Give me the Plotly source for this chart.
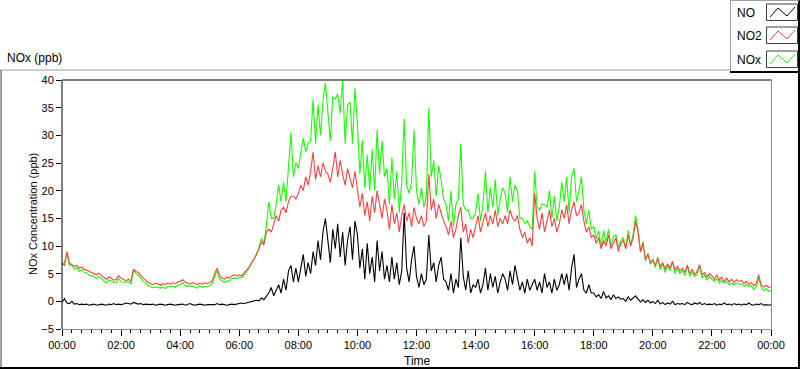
import plotly.graph_objects as go

# ---- data (5-minute readings, 00:00 .. 24:00) ----
no2 = [
    6.8, 6.5, 9.0, 6.9, 6.6, 6.3, 6.5, 6.0, 6.2, 5.8, 5.6, 5.4,
    5.2, 5.0, 4.8, 5.1, 4.6, 4.3, 4.0, 4.4, 4.2, 3.8, 4.0, 4.6,
    4.2, 3.9, 3.7, 4.0, 3.6, 5.8, 5.4, 5.2, 4.6, 4.2, 3.8, 3.4,
    3.2, 3.0, 3.3, 3.1, 2.9, 3.2, 3.0, 3.3, 3.1, 3.4, 3.2, 3.5,
    3.6, 3.9, 3.5, 3.3, 3.1, 3.4, 3.2, 3.0, 3.3, 3.1, 3.4, 3.2,
    3.4, 3.7, 5.0, 6.0, 4.6, 4.2, 4.0, 4.4, 4.2, 4.6, 4.8, 4.6,
    4.8, 4.6, 5.2, 5.6, 6.2, 7.0, 7.6, 8.4, 9.5, 10.8, 10.2, 12.5,
    13.0, 12.5, 14.0, 15.5, 14.5, 16.5, 17.0, 16.0, 18.0, 19.0, 19.0, 18.5,
    19.5, 21.0, 20.0, 22.5, 21.0, 23.5, 27.0, 22.0, 24.5, 22.5, 25.0, 23.5,
    23.0, 21.5, 24.0, 27.0, 22.5, 25.5, 23.0, 21.0, 24.0, 22.0, 20.5, 23.5,
    20.5, 17.0, 19.5, 15.5, 18.0, 14.5, 19.0, 16.0, 20.0, 17.5, 15.0, 18.5,
    16.5, 13.0, 17.5, 14.0, 16.0, 12.5, 15.5, 17.5, 14.5, 16.0, 13.5, 17.0,
    15.0, 14.0, 15.5, 13.5, 14.5, 23.0, 16.5, 18.5, 15.0, 17.5, 16.0, 14.5,
    13.5, 12.0, 14.5, 11.5, 13.0, 15.5, 17.0, 12.5, 14.0, 10.5, 13.0, 11.5,
    13.5, 15.5, 12.5, 14.5, 16.0, 13.5, 15.5, 14.0, 16.5, 13.5, 15.0, 14.0,
    15.5, 14.0, 16.5, 15.0, 14.5, 15.5, 13.0, 11.5, 12.5, 10.5, 11.5, 10.0,
    19.5, 15.0, 13.0, 16.0, 12.5, 14.5, 16.5, 13.5, 15.0, 12.5, 14.0, 16.5,
    15.0, 17.5, 14.0, 16.5, 18.0, 15.5, 16.0, 17.5, 14.5, 12.5, 13.5, 11.5,
    12.0, 10.5, 11.5, 9.5, 11.0, 10.0, 12.0, 9.5, 10.5, 11.5, 9.0, 10.5,
    11.0, 9.5, 12.0, 10.0, 11.5, 14.5, 12.5, 9.0, 10.5, 7.5, 8.5, 7.0,
    7.5, 6.5, 7.8, 6.2, 7.0, 5.8, 6.8, 6.0, 7.2, 5.6, 6.4, 5.5,
    6.0, 5.2, 6.6, 5.0, 5.8, 4.8, 5.4, 6.6, 4.8, 5.2, 4.4, 5.0,
    4.6, 4.0, 4.8, 3.8, 4.4, 3.6, 4.2, 3.5, 4.0, 3.4, 3.9, 3.6,
    3.8, 3.2, 3.6, 3.0, 3.4, 2.8, 3.2, 4.8, 3.0, 2.6, 2.9, 2.5,
    2.6,
]

no = [
    -0.2, 0.5, -0.3, -0.4, 0.0, -0.5, -0.4, -0.6, -0.5, -0.6, -0.5, -0.7,
    -0.6, -0.5, -0.7, -0.6, -0.5, -0.6, -0.7, -0.5, -0.6, -0.4, -0.6, -0.5,
    -0.6, -0.5, -0.3, -0.4, -0.5, -0.2, -0.4, -0.5, -0.4, -0.6, -0.5, -0.6,
    -0.6, -0.5, -0.7, -0.6, -0.5, -0.6, -0.7, -0.6, -0.5, -0.6, -0.7, -0.6,
    -0.6, -0.5, -0.7, -0.6, -0.4, -0.6, -0.7, -0.6, -0.5, -0.6, -0.7, -0.6,
    -0.6, -0.5, -0.6, -0.4, -0.6, -0.5, -0.6, -0.7, -0.6, -0.5, -0.6, -0.5,
    -0.4, -0.3, -0.4, -0.3, -0.2, -0.1, 0.0, 0.2, 0.1, 0.6, 0.3, 1.0,
    1.5, 2.5, 1.0, 2.0, 3.0, 1.5, 4.0, 2.0, 5.5, 6.5, 3.5, 6.0,
    3.5, 6.0, 8.5, 4.5, 7.0, 5.0, 9.0, 6.5, 11.0, 7.5, 12.5, 15.0,
    10.5, 7.0, 13.0, 9.5, 14.0, 8.0, 12.5, 6.5, 11.0, 13.5, 7.5, 14.5,
    12.0, 6.0, 9.5, 4.0, 10.5, 5.0, 8.0, 3.5, 11.0, 5.5, 9.0, 4.0,
    6.5, 3.5, 8.0, 4.0, 7.0, 3.0, 5.5, 16.0, 6.0, 3.5, 7.5, 10.0,
    4.5, 2.5, 5.0, 3.0, 4.0, 12.0, 5.5, 7.0, 3.5, 6.5, 8.0, 4.0,
    3.5, 2.0, 5.0, 1.5, 4.0, 2.5, 11.5, 4.5, 2.0, 5.5, 1.5, 3.0,
    2.5, 4.0, 1.5, 3.0, 6.0, 2.0, 5.0, 2.5, 4.5, 1.5, 3.5, 5.0,
    4.0, 2.0, 5.5, 3.0, 6.5, 4.5, 2.0, 3.5, 1.5, 4.0, 2.0, 3.0,
    4.0, 2.0, 3.5, 1.5, 5.0, 2.5, 3.5, 1.5, 4.0, 2.0, 3.0, 5.0,
    3.0, 5.0, 2.0, 6.0, 8.5, 2.5, 4.0, 5.0, 2.0, 1.5, 3.0, 1.5,
    1.5, 0.8, 1.2, 0.5, 1.8, 0.6, 1.0, 0.3, 1.2, 0.5, 0.8, 0.4,
    0.5, 0.0, 0.8, 0.2, 0.6, 1.0, 0.4, -0.1, 0.3, -0.2, 0.2, -0.3,
    0.0, -0.4, 0.2, -0.5, -0.2, -0.6, -0.3, -0.5, 0.0, -0.6, -0.4, -0.5,
    -0.4, -0.6, -0.2, -0.5, -0.6, -0.3, -0.5, -0.2, -0.6, -0.4, -0.6, -0.5,
    -0.6, -0.4, -0.7, -0.5, -0.6, -0.3, -0.6, -0.5, -0.7, -0.4, -0.6, -0.5,
    -0.7, -0.5, -0.6, -0.3, -0.6, -0.7, -0.5, -0.6, -0.4, -0.7, -0.6, -0.7,
    -0.6,
]

nox = [
    6.6, 7.0, 8.7, 6.5, 6.6, 5.8, 6.1, 5.4, 5.7, 5.2, 5.1, 4.7,
    4.6, 4.5, 4.1, 4.5, 4.1, 3.7, 3.3, 3.9, 3.6, 3.4, 3.4, 4.1,
    3.6, 3.4, 3.4, 3.6, 3.1, 5.6, 5.0, 4.7, 4.2, 3.6, 3.3, 2.8,
    2.6, 2.5, 2.6, 2.5, 2.4, 2.6, 2.3, 2.7, 2.6, 2.8, 2.5, 2.9,
    3.0, 3.4, 2.8, 2.7, 2.7, 2.8, 2.5, 2.4, 2.8, 2.5, 2.7, 2.6,
    2.8, 3.2, 4.4, 5.6, 4.0, 3.7, 3.4, 3.7, 3.6, 4.1, 4.2, 4.1,
    4.4, 4.3, 4.8, 5.3, 6.0, 6.9, 7.6, 8.6, 9.6, 11.4, 10.5, 13.5,
    18.0, 15.0, 15.0, 17.5, 21.0, 18.0, 21.5, 18.0, 23.5, 30.5, 22.5, 25.0,
    24.0, 27.0, 29.5, 27.0, 28.5, 29.0, 36.5, 28.5, 35.5, 30.0, 36.0, 39.5,
    33.5, 29.0, 37.0, 36.5, 37.5, 34.0, 40.0, 28.5, 35.5, 36.0, 28.5, 38.5,
    32.0, 23.0, 29.0, 20.5, 26.5, 20.0, 27.5, 20.0, 31.0, 23.0, 29.0, 22.5,
    24.0, 17.5, 26.0, 18.5, 23.5, 16.0, 21.5, 33.0, 21.0, 19.5, 21.5, 31.0,
    20.0, 17.5, 20.5, 17.0, 19.0, 35.0, 22.5, 25.5, 19.0, 24.5, 22.0, 18.5,
    17.5, 14.5, 20.0, 13.5, 17.5, 18.5, 28.5, 17.5, 16.5, 16.5, 15.0, 15.0,
    16.0, 19.5, 14.5, 17.5, 23.5, 16.0, 20.5, 17.0, 22.0, 15.5, 18.5, 20.5,
    19.5, 16.0, 22.5, 18.0, 21.0, 20.0, 15.0, 15.0, 14.0, 14.5, 13.5, 13.0,
    23.5, 17.0, 16.5, 17.5, 17.5, 17.0, 20.0, 15.0, 19.0, 14.5, 17.0, 21.5,
    18.0, 22.5, 16.0, 22.5, 24.0, 18.0, 20.0, 22.5, 16.5, 14.0, 16.5, 13.0,
    13.5, 11.3, 12.7, 10.0, 12.8, 10.6, 13.0, 9.8, 11.7, 12.0, 9.8, 10.9,
    11.5, 9.5, 12.8, 10.2, 12.1, 15.5, 12.9, 8.9, 10.8, 7.3, 8.7, 6.7,
    7.5, 6.1, 8.0, 5.7, 6.8, 5.2, 6.5, 5.5, 7.2, 5.0, 6.0, 5.0,
    5.6, 4.6, 6.4, 4.5, 5.2, 4.5, 4.9, 6.4, 4.2, 4.8, 3.8, 4.5,
    4.0, 3.6, 4.1, 3.3, 3.8, 3.3, 3.6, 3.0, 3.3, 3.0, 3.3, 3.1,
    3.1, 2.7, 3.0, 2.7, 2.8, 2.1, 2.7, 4.2, 2.6, 1.9, 2.3, 1.8,
    2.0,
]

x_tick_vals = [0, 2, 4, 6, 8, 10, 12, 14, 16, 18, 20, 22, 24]
x_tick_text = ["00:00", "02:00", "04:00", "06:00", "08:00", "10:00", "12:00",
               "14:00", "16:00", "18:00", "20:00", "22:00", "00:00"]
y_tick_vals = [-5, 0, 5, 10, 15, 20, 25, 30, 35, 40]

series = [("NOx", nox, "#19FF00"), ("NO2", no2, "#FF4040"), ("NO", no, "#000000")]

W, H = 800, 369
def px(v): return v / W
def py(v): return 1 - v / H

FONT = "Liberation Sans, Arial, sans-serif"

fig = go.Figure()
for name, vals, col in series:
    fig.add_trace(go.Scatter(
        x=[i / 12 for i in range(len(vals))], y=vals, mode="lines", name=name,
        line=dict(color=col, width=1.1), showlegend=False, hoverinfo="skip",
    ))

fig.update_layout(
    width=W, height=H, margin=dict(l=0, r=0, t=0, b=0, pad=0, autoexpand=False),
    paper_bgcolor="white", plot_bgcolor="white",
    font=dict(family=FONT, size=11, color="#000000"),
    xaxis=dict(domain=[px(62), px(771)], range=[0, 24], tickvals=x_tick_vals,
               ticktext=x_tick_text, ticks="outside", ticklen=6, tickcolor="#000",
               showgrid=False, zeroline=False, showline=False, automargin=False,
               minor=dict(dtick=1/3, ticks="outside", ticklen=3, tickcolor="#000", showgrid=False),
               tickfont=dict(size=11, family=FONT)),
    yaxis=dict(domain=[py(329), py(80)], range=[-5, 40], tickvals=y_tick_vals,
               ticks="outside", ticklen=5, tickcolor="#000", showgrid=False, automargin=False,
               zeroline=False, showline=False, tickfont=dict(size=11, family=FONT)),
)

shapes = []
def line(x0, y0, x1, y1, color, w=1):
    shapes.append(dict(type="line", xref="paper", yref="paper",
                       x0=px(x0), y0=py(y0), x1=px(x1), y1=py(y1),
                       line=dict(color=color, width=w), layer="above"))

# plot frame
line(62, 80, 771.5, 80, "#000000")
line(62, 80, 62, 329, "#000000")
line(771.5, 80, 771.5, 329.5, "#8C8C8C")
line(62, 329.5, 771.5, 329.5, "#8C8C8C")
# outer panel
line(0, 70, 730, 70, "#A0A0A0")
line(1, 70, 1, 368, "#A0A0A0", 2)
line(0, 368, 800, 368, "#000000", 2)
line(799, 0, 799, 368, "#000000", 2)
# legend box
line(730, 0.5, 799, 0.5, "#A0A0A0")
line(730.5, 0, 730.5, 72, "#A0A0A0")
line(730, 72, 800, 72, "#000000", 2)

legend_items = [("NO", "#000000", 4), ("NO2", "#FF4040", 27), ("NOx", "#19FF00", 51)]
annotations = [
    dict(text="NOx (ppb)", xref="paper", yref="paper", x=px(5), y=py(58),
         xanchor="left", yanchor="middle", showarrow=False,
         font=dict(size=12, family=FONT)),
    dict(text="NOx Concentration (ppb)", xref="paper", yref="paper", x=px(33), y=py(214),
         xanchor="center", yanchor="middle", showarrow=False, textangle=-90,
         font=dict(size=11, family=FONT, color="#1a0000")),
    dict(text="Time", xref="paper", yref="paper", x=px(417), y=py(361),
         xanchor="center", yanchor="middle", showarrow=False,
         font=dict(size=12, family=FONT)),
]
for name, col, top in legend_items:
    annotations.append(dict(text=name, xref="paper", yref="paper", x=px(735), y=py(top + 8.5),
                            xanchor="left", yanchor="middle", showarrow=False,
                            font=dict(size=12, family=FONT)))
    shapes.append(dict(type="rect", xref="paper", yref="paper",
                       x0=px(766.5), y0=py(top), x1=px(797.5), y1=py(top + 16.5),
                       line=dict(color="#404040", width=1), fillcolor="white", layer="above"))
    pts = [(770, top + 13), (778, top + 4), (787, top + 12), (795, top + 3)]
    path = "M " + " L ".join(f"{px(a)},{py(b)}" for a, b in pts)
    shapes.append(dict(type="path", xref="paper", yref="paper", path=path,
                       line=dict(color=col, width=1), layer="above"))

fig.update_layout(shapes=shapes, annotations=annotations)
fig.write_html("out.html", config={"displayModeBar": False, "staticPlot": True},
               post_script="document.body.style.margin='0';document.body.style.padding='0';")
